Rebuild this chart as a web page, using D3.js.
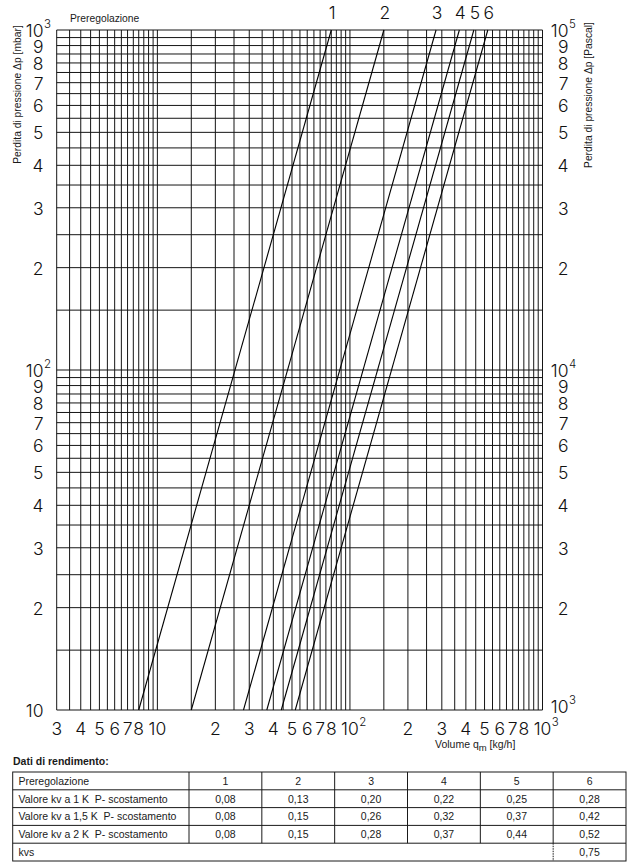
<!DOCTYPE html>
<html>
<head>
<meta charset="utf-8">
<script src="https://cdn.jsdelivr.net/npm/d3@7"></script>
<style>
  body { margin: 0; background: #fff; }
  .num { font-family: Inter, Roboto, "DejaVu Sans", sans-serif; font-weight: 300; font-size: 17.5px; fill: #111; }
  .sup { font-family: Inter, Roboto, "DejaVu Sans", sans-serif; font-weight: 300; font-size: 11.5px; fill: #111; }
  .lbl { font-family: "Liberation Sans", Arial, sans-serif; font-size: 10.5px; fill: #1a1a1a; white-space: pre; }
  .ttl { font-family: "Liberation Sans", Arial, sans-serif; font-size: 10.3px; fill: #1a1a1a; }
  .bold { font-weight: bold; }
</style>
</head>
<body>
<svg id="chart" width="629" height="866"></svg>
<script>
// DATA -----------------------------------------------------------------------

var presetNames = ["1", "2", "3", "4", "5", "6"];
var kv1K  = [0.08, 0.13, 0.20, 0.22, 0.25, 0.28];
var kv15K = [0.08, 0.15, 0.26, 0.32, 0.37, 0.42];
var kv2K  = [0.08, 0.15, 0.28, 0.37, 0.44, 0.52];
var kvs = 0.75;

// flow (kg/h) where each presetting line crosses 10 mbar and 1000 mbar
var curveFlowAt10   = [8, 15, 28, 37, 44, 52];
var curveFlowAt1000 = [80, 150, 280, 370, 440, 520];

var xTickValues = [3, 4, 5, 6, 7, 8, 10, 20, 30, 40, 50, 60, 70, 80, 100,
                   200, 300, 400, 500, 600, 700, 800, 1000];
var xTickText = ["3", "4", "5", "6", "7", "8", "10", "2", "3", "4", "5", "6", "7", "8", "10",
                 "2", "3", "4", "5", "6", "7", "8", "10"];
var xTickSup = {100: "2", 1000: "3"};

var yTickValues = [10, 20, 30, 40, 50, 60, 70, 80, 90, 100,
                   200, 300, 400, 500, 600, 700, 800, 900, 1000];
var yTickText = ["10", "2", "3", "4", "5", "6", "7", "8", "9", "10",
                 "2", "3", "4", "5", "6", "7", "8", "9", "10"];
var yLeftSup  = {100: "2", 1000: "3"};        // mbar
var yRightSup = {10: "3", 100: "4", 1000: "5"}; // Pascal

// LAYOUT ---------------------------------------------------------------------

var svg = d3.select("#chart");
var plotLeft = 56.7, plotRight = 542.5, plotTop = 30, plotBottom = 710;

var x = d3.scaleLog().domain([3, 1000]).range([plotLeft, plotRight]);
var y = d3.scaleLog().domain([10, 1000]).range([plotBottom, plotTop]);

var gridX = d3.range(3, 10, 0.5).concat(d3.range(10, 100, 5), d3.range(100, 1000.1, 50));
var gridY = d3.range(10, 100, 5).concat(d3.range(100, 1000.1, 50));

// GRID -----------------------------------------------------------------------

var grid = svg.append("g").attr("stroke", "#151515").attr("stroke-width", 1);
grid.selectAll(".gx").data(gridX).enter().append("line")
    .attr("x1", function(d) { return x(d); }).attr("x2", function(d) { return x(d); })
    .attr("y1", plotTop).attr("y2", plotBottom);
grid.selectAll(".gy").data(gridY).enter().append("line")
    .attr("y1", function(d) { return y(d); }).attr("y2", function(d) { return y(d); })
    .attr("x1", plotLeft).attr("x2", plotRight);

// CURVES ---------------------------------------------------------------------

var line = d3.line().x(function(p) { return x(p[0]); }).y(function(p) { return y(p[1]); });
svg.append("g").selectAll("path").data(presetNames).enter().append("path")
    .attr("d", function(d, i) { return line([[curveFlowAt10[i], 10], [curveFlowAt1000[i], 1000]]); })
    .attr("fill", "none").attr("stroke", "#000").attr("stroke-width", 1.1);

svg.append("g").selectAll("text").data(presetNames).enter().append("text")
    .attr("class", "num")
    .attr("x", function(d, i) { return x(curveFlowAt1000[i]) + 1; })
    .attr("y", 18.5)
    .attr("text-anchor", "middle")
    .text(function(d) { return d; });

// AXIS LABELS ----------------------------------------------------------------

function addSup(textSel, sup, dx, dy) {
    textSel.each(function(d) {
        if (!sup[d]) return;
        var t = d3.select(this), b = this.getBBox();
        svg.append("text").attr("class", "sup")
            .attr("x", b.x + b.width + dx)
            .attr("y", +t.attr("y") + dy)
            .text(sup[d]);
    });
}

var xl = svg.append("g").selectAll("text").data(xTickValues).enter().append("text")
    .attr("class", "num")
    .attr("x", function(d) { return x(d); })
    .attr("y", 735)
    .attr("text-anchor", "middle")
    .text(function(d, i) { return xTickText[i]; });
addSup(xl, xTickSup, 0.5, -9);

var yl = svg.append("g").selectAll("text").data(yTickValues).enter().append("text")
    .attr("class", "num")
    .attr("x", 43.5)
    .attr("y", function(d) { return y(d) + 7; })
    .attr("text-anchor", "end")
    .text(function(d, i) { return yTickText[i]; });
addSup(yl, yLeftSup, 0.5, -9);

var yr = svg.append("g").selectAll("text").data(yTickValues).enter().append("text")
    .attr("class", "num")
    .attr("x", 568.5)
    .attr("y", function(d) { return y(d) + 7 - (d == 10 ? 4 : 0); })
    .attr("text-anchor", "end")
    .text(function(d, i) { return yTickText[i]; });
addSup(yr, yRightSup, 0.5, -9);

// TITLES ---------------------------------------------------------------------

svg.append("text").attr("class", "ttl").attr("x", 70).attr("y", 21.5).text("Preregolazione");

svg.append("text").attr("class", "ttl")
    .attr("transform", "translate(20.5,94.5) rotate(-90)")
    .attr("text-anchor", "middle")
    .text("Perdita di pressione \u0394p [mbar]");

svg.append("text").attr("class", "ttl")
    .attr("transform", "translate(591.5,95) rotate(-90)")
    .attr("text-anchor", "middle")
    .text("Perdita di pressione \u0394p [Pascal]");

var vol = svg.append("text").attr("class", "lbl").attr("x", 435).attr("y", 747.5);
vol.append("tspan").text("Volume q");
vol.append("tspan").attr("dy", 3).attr("font-size", 9.5).text("m");
vol.append("tspan").attr("dy", -3).text(" [kg/h]");

// TABLE ----------------------------------------------------------------------

var fmt = d3.formatLocale({decimal: ",", thousands: ".", grouping: [3], currency: ["", ""]}).format(".2f");

svg.append("text").attr("class", "lbl bold").attr("x", 13).attr("y", 765).text("Dati di rendimento:");

var rowNames = ["Preregolazione", "Valore kv a 1 K  P- scostamento",
                "Valore kv a 1,5 K  P- scostamento", "Valore kv a 2 K  P- scostamento", "kvs"];
var rowValues = [presetNames, kv1K.map(fmt), kv15K.map(fmt), kv2K.map(fmt)];

var tLeft = 12.7, tRight = 626, firstCol = 189, tTop = 772, rowH = 17.8;
var colX = d3.scaleLinear().domain([0, 6]).range([firstCol, tRight]);
var rowY = function(r) { return tTop + r * rowH; };

var tg = svg.append("g").attr("stroke", "#1a1a1a").attr("stroke-width", 1);
tg.append("rect").attr("x", tLeft).attr("y", tTop)
    .attr("width", tRight - tLeft).attr("height", rowH * rowNames.length).attr("fill", "none");
tg.selectAll(".rl").data(d3.range(1, rowNames.length)).enter().append("line")
    .attr("x1", tLeft).attr("x2", tRight)
    .attr("y1", function(r) { return rowY(r); }).attr("y2", function(r) { return rowY(r); });
tg.selectAll(".cl").data(d3.range(0, 6)).enter().append("line")
    .attr("x1", function(c) { return colX(c); }).attr("x2", function(c) { return colX(c); })
    .attr("y1", tTop).attr("y2", rowY(rowValues.length));
tg.append("line")
    .attr("x1", colX(5)).attr("x2", colX(5))
    .attr("y1", rowY(4)).attr("y2", rowY(5))
    .attr("stroke-dasharray", "1.5,1");

svg.append("g").selectAll("text").data(rowNames).enter().append("text")
    .attr("class", "lbl")
    .attr("x", 18.5)
    .attr("y", function(d, r) { return rowY(r) + 12.8; })
    .text(function(d) { return d; });

rowValues.forEach(function(vals, r) {
    svg.append("g").selectAll("text").data(vals).enter().append("text")
        .attr("class", "lbl")
        .attr("x", function(d, c) { return colX(c + 0.5); })
        .attr("y", rowY(r) + 12.8)
        .attr("text-anchor", "middle")
        .text(function(d) { return d; });
});
svg.append("text").attr("class", "lbl")
    .attr("x", colX(5.5)).attr("y", rowY(4) + 12.8)
    .attr("text-anchor", "middle")
    .text(fmt(kvs));
</script>
</body>
</html>
